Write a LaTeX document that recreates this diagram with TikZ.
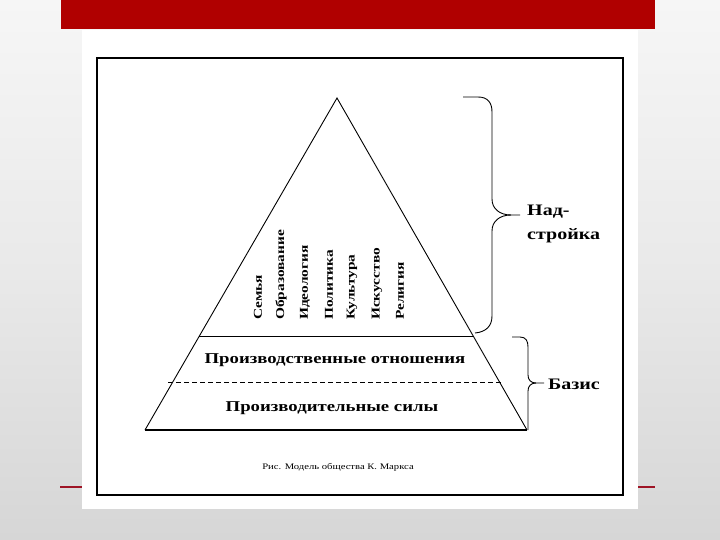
\documentclass[tikz,border=0pt]{standalone}
\usepackage{fontspec}
\usepackage{graphicx}
\setmainfont{Liberation Serif}
\definecolor{barred}{HTML}{B00000}
\definecolor{linered}{HTML}{9E1425}
\definecolor{bgtop}{HTML}{F6F6F6}
\definecolor{bgbot}{HTML}{D6D6D6}
\newcommand{\wideA}[1]{\scalebox{1.28}[1]{#1}}
\newcommand{\wideB}[1]{\scalebox{1.25}[1]{#1}}
\tikzset{
  thinln/.style={line width=0.9pt, black},
  vword/.style={rotate=90, anchor=west, inner sep=0pt, font=\fontsize{12}{14}\selectfont\bfseries},
  hlabel/.style={inner sep=0pt, font=\fontsize{15}{18}\selectfont\bfseries},
  slabel/.style={inner sep=0pt, anchor=west, font=\fontsize{16}{19}\selectfont\bfseries},
  caption/.style={inner sep=0pt, font=\fontsize{8.5}{10}\selectfont},
}
\begin{document}
\begin{tikzpicture}[x=1pt,y=-1pt]
\useasboundingbox (0,0) rectangle (720,540);
% background
\shade[top color=bgtop, bottom color=bgbot, middle color=bgtop!60!bgbot] (0,0) rectangle (720,540);
\fill[white] (82,30) rectangle (638,509);
\fill[barred] (61,0) rectangle (655,29);
\draw[linered, line width=2pt] (60,487) -- (82,487);
\draw[linered, line width=2pt] (638,487) -- (655,487);
% frame
\draw[line width=1.5pt] (97,58) rectangle (623,495);
% pyramid
\coordinate (A) at (337,98);
\coordinate (L) at (145,430);
\coordinate (R) at (527,430);
\draw[thinln] (L) -- (A) -- (R);
\draw[line width=2.6pt] (L) -- (R);
\path (A) -- (L) coordinate[pos=0.717] (t1) coordinate[pos=0.858] (d1);
\path (A) -- (R) coordinate[pos=0.717] (t2) coordinate[pos=0.858] (d2);
\draw[thinln] (t1) -- (t2);
\draw[thinln, dash pattern=on 5pt off 3pt] ([xshift=-4pt]d1) -- ([xshift=3pt]d2);
% vertical words
\node[vword] (w1) at (258,320) {\wideA{Семья}};
\node[vword] (w2) at (281,320) {\wideA{Образование}};
\node[vword] (w3) at (305,320) {\wideA{Идеология}};
\node[vword] (w4) at (329,320) {\wideA{Политика}};
\node[vword] (w5) at (352,320) {\wideA{Культура}};
\node[vword] (w6) at (377,320) {\wideA{Искусство}};
\node[vword] (w7) at (400,320) {\wideA{Религия}};
% horizontal labels
\node[hlabel] (po) at (335,360) {\wideB{Производственные отношения}};
\node[hlabel] (ps) at (332,408) {\wideB{Производительные силы}};
% upper brace
\coordinate (b1top) at (463,97);
\coordinate (b1tip) at (520,215);
\coordinate (b1bot) at (475,333);
\draw[thinln] (b1top) -- (478,97) .. controls (488,97) and (492,103) .. (492,112)
  -- (492,199) .. controls (492,209) and (500,215) .. (511,215) -- (b1tip);
\draw[thinln] (511,215) .. controls (500,215) and (492,221) .. (492,231)
  -- (492,316) .. controls (492,326) and (486,332) .. (b1bot);
\node[slabel] (nad1) at (527,212) {\wideB{Над-}};
\node[slabel] (nad2) at (527,236) {\wideB{стройка}};
% lower brace
\coordinate (b2top) at (512,337);
\coordinate (b2tip) at (544,383);
\coordinate (b2bot) at (528,430);
\draw[thinln] (b2top) -- (520,337) .. controls (526,337) and (528,341) .. (528,347)
  -- (528,375) .. controls (528,380) and (531,383) .. (536,383) -- (b2tip);
\draw[thinln] (536,383) .. controls (531,383) and (528,386) .. (528,391) -- (b2bot);
\node[slabel] (baz) at (548,384) {\wideB{Базис}};
% caption
\node[caption] (cap) at (338,467) {\scalebox{1.25}[1]{Рис. Модель общества К. Маркса}};
\end{tikzpicture}
\end{document}
